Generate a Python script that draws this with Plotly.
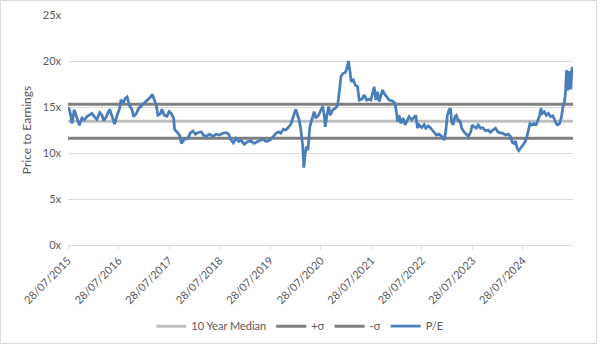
import plotly.graph_objects as go

# Weekly-sampled price-to-earnings readings
pe_dates = [
    "2015-08-01", "2015-08-14", "2015-08-26", "2015-09-11", "2015-10-01", "2015-10-18", "2015-11-06",
    "2015-11-23", "2015-12-12", "2015-12-31", "2016-01-17", "2016-02-03", "2016-02-22", "2016-03-13",
    "2016-03-30", "2016-04-11", "2016-04-30", "2016-05-24", "2016-06-10", "2016-06-29", "2016-07-17",
    "2016-08-04", "2016-08-14", "2016-08-29", "2016-09-14", "2016-09-27", "2016-10-13", "2016-11-02",
    "2016-11-13", "2016-12-03", "2016-12-19", "2017-01-13", "2017-02-06", "2017-02-25", "2017-03-14",
    "2017-03-28", "2017-04-12", "2017-04-26", "2017-05-08", "2017-05-25", "2017-06-06", "2017-06-23",
    "2017-07-12", "2017-07-28", "2017-08-12", "2017-08-29", "2017-09-05", "2017-09-22", "2017-10-11",
    "2017-10-25", "2017-11-16", "2017-12-11", "2017-12-27", "2018-01-16", "2018-02-03", "2018-02-21",
    "2018-03-17", "2018-04-02", "2018-04-22", "2018-05-16", "2018-06-09", "2018-07-03", "2018-07-26",
    "2018-08-19", "2018-09-12", "2018-10-02", "2018-10-18", "2018-11-04", "2018-11-23", "2018-12-13",
    "2018-12-29", "2019-01-22", "2019-02-16", "2019-03-12", "2019-04-04", "2019-04-29", "2019-05-23",
    "2019-06-08", "2019-06-28", "2019-07-22", "2019-08-15", "2019-09-08", "2019-09-27", "2019-10-14",
    "2019-10-31", "2019-11-19", "2019-12-08", "2019-12-25", "2020-01-11", "2020-01-30", "2020-02-11",
    "2020-02-23", "2020-03-06", "2020-03-19", "2020-03-28", "2020-04-06", "2020-04-16", "2020-04-26",
    "2020-05-10", "2020-05-25", "2020-06-10", "2020-06-22", "2020-07-12", "2020-07-29", "2020-08-11",
    "2020-08-22", "2020-08-29", "2020-09-11", "2020-09-23", "2020-10-05", "2020-10-22", "2020-11-10",
    "2020-11-27", "2020-12-08", "2020-12-21", "2021-01-02", "2021-01-21", "2021-02-02", "2021-02-13",
    "2021-02-24", "2021-03-05", "2021-03-20", "2021-04-03", "2021-04-20", "2021-05-02", "2021-05-21",
    "2021-06-07", "2021-06-24", "2021-07-09", "2021-07-25", "2021-08-06", "2021-08-18", "2021-08-30",
    "2021-09-11", "2021-09-23", "2021-10-05", "2021-10-18", "2021-10-29", "2021-11-15", "2021-12-04",
    "2021-12-29", "2022-01-16", "2022-01-27", "2022-02-03", "2022-02-14", "2022-02-27", "2022-03-15",
    "2022-03-30", "2022-04-16", "2022-04-27", "2022-05-17", "2022-06-03", "2022-06-15", "2022-06-27",
    "2022-07-09", "2022-07-28", "2022-08-14", "2022-08-26", "2022-09-14", "2022-10-01", "2022-10-25",
    "2022-11-11", "2022-11-30", "2022-12-19", "2023-01-05", "2023-01-17", "2023-01-29", "2023-02-10",
    "2023-02-20", "2023-03-01", "2023-03-11", "2023-03-25", "2023-04-04", "2023-04-19", "2023-04-28",
    "2023-05-13", "2023-05-29", "2023-06-16", "2023-06-30", "2023-07-17", "2023-07-28", "2023-08-09",
    "2023-08-26", "2023-09-09", "2023-09-26", "2023-10-12", "2023-11-01", "2023-11-20", "2023-12-07",
    "2023-12-24", "2024-01-12", "2024-01-29", "2024-02-17", "2024-03-05", "2024-03-24", "2024-04-13",
    "2024-04-29", "2024-05-12", "2024-05-23", "2024-06-04", "2024-06-17", "2024-06-28", "2024-07-11",
    "2024-07-28", "2024-08-11", "2024-08-24", "2024-09-05", "2024-09-17", "2024-09-29", "2024-10-15",
    "2024-11-02", "2024-11-16", "2024-11-25", "2024-12-05", "2024-12-15", "2024-12-29", "2025-01-13",
    "2025-01-27", "2025-02-13", "2025-03-01", "2025-03-16", "2025-03-26", "2025-04-04", "2025-04-19",
    "2025-05-03", "2025-05-13", "2025-05-25", "2025-06-01", "2025-06-08", "2025-06-18", "2025-06-29",
    "2025-07-09", "2025-07-18", "2025-07-25",
]
pe_values = [
    15.0, 14.3, 13.2, 14.7, 13.8, 13.0, 13.8,
    13.6, 13.95, 14.1, 14.3, 13.95, 13.65, 14.4,
    14.1, 13.5, 13.95, 14.75, 14.1, 13.15, 14.1,
    14.85, 15.8, 15.4, 15.95, 16.1, 15.2, 14.7,
    13.95, 14.3, 14.85, 15.2, 15.45, 15.75, 16.05,
    16.4, 15.75, 15.2, 14.1, 14.25, 14.75, 14.1,
    14.0, 14.5, 14.3, 13.8, 12.6, 12.3, 11.95,
    11.05, 11.5, 11.6, 12.15, 12.4, 12.05, 12.2,
    12.3, 11.95, 11.8, 12.05, 11.8, 12.05, 11.95,
    12.15, 12.2, 12.05, 11.4, 11.1, 11.6, 11.25,
    11.4, 10.95, 11.25, 11.3, 11.05, 11.25, 11.35,
    11.5, 11.25, 11.35, 11.7, 12.15, 12.3, 12.15,
    12.6, 12.5, 12.8, 13.15, 13.95, 14.75, 14.1,
    13.6, 12.5, 10.85, 8.4, 9.95, 10.7, 10.3,
    12.85, 13.6, 14.5, 13.8, 14.1, 14.7, 15.05,
    14.1, 12.85, 14.1, 15.05, 14.1, 14.7, 14.85,
    15.2, 16.5, 18.3, 18.6, 18.75, 19.2, 20.0,
    18.85, 17.75, 17.95, 17.4, 17.2, 15.75, 15.85,
    16.3, 15.75, 15.85, 15.75, 16.5, 17.2, 15.75,
    16.65, 15.6, 16.3, 16.85, 16.5, 16.1, 15.75,
    15.65, 15.4, 14.3, 13.4, 14.1, 13.2, 13.8,
    13.05, 13.6, 13.95, 13.6, 13.95, 14.1, 12.7,
    13.05, 12.75, 13.1, 12.7, 12.95, 12.7, 12.3,
    11.95, 12.05, 11.8, 11.4, 12.3, 14.1, 14.7,
    14.85, 13.4, 13.05, 13.95, 14.1, 13.4, 13.6,
    12.7, 12.3, 12.05, 11.8, 12.3, 13.05, 12.85,
    12.7, 13.05, 12.7, 12.75, 12.4, 12.5, 12.25,
    12.5, 12.7, 12.3, 12.15, 12.15, 11.95, 12.05,
    11.8, 11.15, 11.05, 11.3, 10.5, 10.25, 10.5,
    10.85, 11.15, 11.65, 12.3, 13.2, 13.05, 13.2,
    13.1, 13.6, 14.05, 14.85, 14.3, 14.5, 14.1,
    14.3, 13.95, 14.05, 13.4, 13.2, 13.05, 13.2,
    13.95, 15.05, 15.6, 16.65, 19.0, 16.8, 18.9,
    16.9, 19.2, 19.3,
]

# Ten-year reference levels
median_pe = 13.45
plus_sigma = 15.3
minus_sigma = 11.6

axis_start = "2015-07-28"
axis_end = "2025-07-25"

tick_dates = [f"{y}-07-28" for y in range(2015, 2025)]
tick_labels = [f"28/07/{y}" for y in range(2015, 2025)]

FONT = "Lato, 'Liberation Sans', sans-serif"
TEXT = "#595959"
GRID = "#d9d9d9"

fig = go.Figure()
span = [axis_start, axis_end]
fig.add_trace(go.Scatter(x=span, y=[median_pe, median_pe], mode="lines",
                         name="10 Year Median", line=dict(color="#bfbfbf", width=3)))
fig.add_trace(go.Scatter(x=span, y=[plus_sigma, plus_sigma], mode="lines",
                         name="+σ", line=dict(color="#7f7f7f", width=3)))
fig.add_trace(go.Scatter(x=span, y=[minus_sigma, minus_sigma], mode="lines",
                         name="-σ", line=dict(color="#7f7f7f", width=3)))
fig.add_trace(go.Scatter(x=pe_dates, y=pe_values, mode="lines",
                         name="P/E", line=dict(color="#4a7ebb", width=2.75)))

fig.update_layout(
    width=600, height=347,
    margin=dict(l=68, r=27, t=15, b=102, autoexpand=False),
    paper_bgcolor="white", plot_bgcolor="white",
    font=dict(family=FONT, size=11, color=TEXT),
    showlegend=True,
    legend=dict(orientation="h", x=0.459, xanchor="center",
                yref="container", y=0.06, yanchor="middle",
                font=dict(family=FONT, size=11, color=TEXT), itemwidth=30,
                bgcolor="rgba(0,0,0,0)"),
    xaxis=dict(type="date", range=[axis_start, axis_end], automargin=False,
               tickmode="array", tickvals=tick_dates, ticktext=tick_labels,
               tickangle=-45, ticks="outside", ticklen=4, tickcolor=GRID,
               showline=True, linecolor=GRID, linewidth=1,
               showgrid=False, zeroline=False,
               tickfont=dict(family=FONT, size=11, color=TEXT)),
    yaxis=dict(range=[0, 25], dtick=5, ticksuffix="x", automargin=False,
               showgrid=True, gridcolor=GRID, gridwidth=1,
               zeroline=False, showline=False, ticks="",
               ticklabelstandoff=6,
               tickfont=dict(family=FONT, size=11, color=TEXT),
               title=dict(text="Price to Earnings", standoff=8,
                          font=dict(family=FONT, size=12, color=TEXT))),
    shapes=[dict(type="rect", xref="paper", yref="paper",
                 x0=-0.1337, x1=1.0465, y0=-0.4283, y1=1.063,
                 line=dict(color=GRID, width=1), fillcolor="rgba(0,0,0,0)", layer="below")],
)

fig.write_html("out.html")
